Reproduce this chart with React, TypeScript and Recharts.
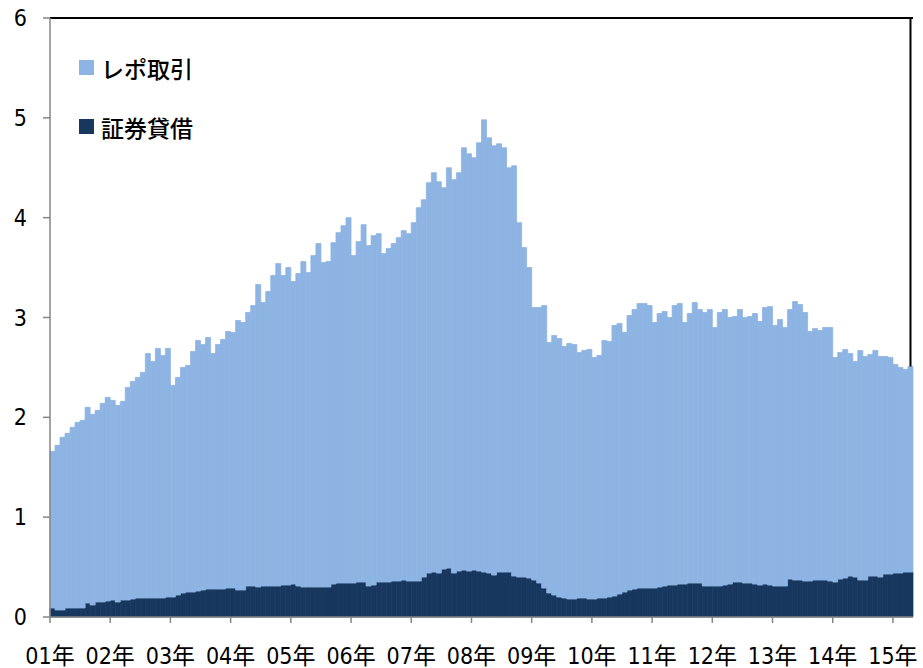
import { BarChart, Bar, XAxis, YAxis, Legend, ReferenceLine } from 'recharts'

// 2001年1月〜2015年4月の月次残高（兆円）
const years = ['01', '02', '03', '04', '05', '06', '07', '08', '09', '10', '11', '12', '13', '14', '15']
const monthNums = [1, 2, 3, 4, 5, 6, 7, 8, 9, 10, 11, 12]
const lastMonth = 4

const months: string[] = []
years.forEach((y, yi) => {
  monthNums.forEach((m) => {
    if (yi === years.length - 1 && m > lastMonth) return
    months.push(`${y}/${m}`)
  })
})

// レポ取引＋証券貸借の合計（グラフの上端）
const totalValues = [
  1.66, 1.72, 1.8, 1.84, 1.9, 1.95, 1.97, 2.1, 2.03, 2.07, 2.14, 2.2,
  2.17, 2.12, 2.16, 2.3, 2.36, 2.4, 2.45, 2.64, 2.56, 2.69, 2.62, 2.69,
  2.32, 2.4, 2.5, 2.52, 2.66, 2.77, 2.73, 2.8, 2.64, 2.73, 2.78, 2.86,
  2.85, 2.97, 2.95, 3.05, 3.12, 3.33, 3.15, 3.26, 3.42, 3.54, 3.42, 3.5,
  3.36, 3.44, 3.56, 3.45, 3.62, 3.74, 3.55, 3.56, 3.75, 3.85, 3.92, 4.0,
  3.62, 3.76, 3.93, 3.72, 3.82, 3.84, 3.64, 3.69, 3.74, 3.8, 3.87, 3.84,
  3.95, 4.1, 4.18, 4.35, 4.45, 4.36, 4.3, 4.5, 4.38, 4.45, 4.7, 4.64,
  4.6, 4.75, 4.98, 4.8, 4.72, 4.74, 4.7, 4.5, 4.52, 3.95, 3.7, 3.5,
  3.1, 3.1, 3.12, 2.75, 2.82, 2.79, 2.71, 2.74, 2.73, 2.65, 2.67, 2.68,
  2.6, 2.62, 2.77, 2.76, 2.92, 2.94, 2.85, 3.02, 3.08, 3.14, 3.14, 3.12,
  2.95, 3.04, 3.06, 3.0, 3.12, 3.14, 2.95, 3.04, 3.15, 3.08, 3.05, 3.08,
  2.9, 3.05, 3.08, 3.0, 3.01, 3.08, 3.0, 3.01, 3.04, 2.96, 3.1, 3.11,
  2.92, 2.98, 2.9, 3.08, 3.16, 3.13, 3.05, 2.86, 2.89, 2.87, 2.9, 2.9,
  2.6, 2.65, 2.68, 2.64, 2.56, 2.67, 2.61, 2.63, 2.67, 2.61, 2.61, 2.6,
  2.53, 2.5, 2.48, 2.51,
]

// 証券貸借
const lendingValues = [
  0.09, 0.07, 0.07, 0.09, 0.09, 0.09, 0.09, 0.14, 0.12, 0.15, 0.15, 0.16,
  0.17, 0.15, 0.17, 0.17, 0.18, 0.19, 0.19, 0.19, 0.19, 0.19, 0.19, 0.2,
  0.2, 0.22, 0.24, 0.25, 0.25, 0.26, 0.27, 0.28, 0.28, 0.28, 0.28, 0.29,
  0.29, 0.27, 0.27, 0.31, 0.31, 0.3, 0.31, 0.31, 0.31, 0.31, 0.32, 0.32,
  0.33, 0.31, 0.3, 0.3, 0.3, 0.3, 0.3, 0.3, 0.33, 0.34, 0.34, 0.34,
  0.34, 0.35, 0.35, 0.31, 0.32, 0.35, 0.35, 0.35, 0.36, 0.36, 0.37, 0.36,
  0.36, 0.36, 0.4, 0.44, 0.45, 0.44, 0.48, 0.49, 0.44, 0.46, 0.47, 0.46,
  0.47, 0.46, 0.45, 0.44, 0.42, 0.45, 0.45, 0.45, 0.41, 0.4, 0.4, 0.39,
  0.37, 0.34, 0.29, 0.24, 0.22, 0.2, 0.19, 0.18, 0.18, 0.19, 0.19, 0.18,
  0.18, 0.19, 0.19, 0.2, 0.21, 0.23, 0.25, 0.27, 0.28, 0.29, 0.29, 0.29,
  0.29, 0.3, 0.31, 0.32, 0.32, 0.33, 0.33, 0.34, 0.34, 0.34, 0.31, 0.31,
  0.31, 0.31, 0.32, 0.33, 0.35, 0.35, 0.34, 0.34, 0.33, 0.32, 0.33, 0.32,
  0.31, 0.31, 0.31, 0.38, 0.37, 0.37, 0.36, 0.36, 0.37, 0.37, 0.37, 0.36,
  0.35, 0.38, 0.39, 0.41, 0.4, 0.37, 0.37, 0.41, 0.41, 0.4, 0.43, 0.43,
  0.44, 0.44, 0.45, 0.45,
]

const yTicks = [0, 1, 2, 3, 4, 5, 6]

const seriesInfo = [
  { key: 'repo', name: 'レポ取引', color: '#8DB4E2' },
  { key: 'lending', name: '証券貸借', color: '#17375E' },
]

const data = months.map((m, i) => ({
  month: m,
  lending: lendingValues[i],
  repo: +(totalValues[i] - lendingValues[i]).toFixed(2),
}))

const W = 923
const H = 668
const PLOT_LEFT = 50
const PLOT_RIGHT = 10
const band = (W - PLOT_LEFT - PLOT_RIGHT) / months.length

const AXIS_GRAY = '#868686'
const labelFont = '"Liberation Sans Narrow", "DejaVu Sans Condensed", "Noto Sans CJK JP", sans-serif'
const jpFont = '"Noto Sans CJK JP", sans-serif'

function YearTick({ x, y, payload }: any) {
  const x0 = x - band / 2
  return (
    <g>
      <line x1={x0} y1={y} x2={x0} y2={y + 6} stroke={AXIS_GRAY} strokeWidth={1.5} />
      <text x={x0} y={y + 47} textAnchor="middle" fontSize={23} fontFamily={labelFont} fill="#000">
        {payload.value.split('/')[0] + '年'}
      </text>
    </g>
  )
}

function LegendBox() {
  return (
    <div style={{ fontFamily: jpFont, fontSize: 23, fontWeight: 500, color: '#000' }}>
      {seriesInfo.map((s) => (
        <div key={s.key} style={{ display: 'flex', alignItems: 'center', height: 59 }}>
          <span style={{ width: 15, height: 15, background: s.color, marginRight: 7, display: 'inline-block' }} />
          <span>{s.name}</span>
        </div>
      ))}
    </div>
  )
}

export default function App() {
  const last = months[months.length - 1]
  return (
    <div style={{ position: 'absolute', left: 0, top: 0, background: '#fff' }}>
      <BarChart
        width={W}
        height={H}
        data={data}
        margin={{ top: 18, right: PLOT_RIGHT, left: 0, bottom: 11 }}
        barCategoryGap={0}
        barGap={0}
      >
        <XAxis
          dataKey="month"
          interval={11}
          tick={<YearTick />}
          tickLine={false}
          tickSize={0}
          tickMargin={0}
          axisLine={{ stroke: AXIS_GRAY, strokeWidth: 1.5 }}
          height={40}
        />
        <YAxis
          domain={[0, 6]}
          ticks={yTicks}
          width={PLOT_LEFT}
          tickSize={7}
          tickMargin={16}
          tick={{ fontSize: 23, fill: '#000', fontFamily: labelFont }}
          axisLine={{ stroke: AXIS_GRAY, strokeWidth: 1.5 }}
          tickLine={{ stroke: AXIS_GRAY, strokeWidth: 1.5 }}
        />
        <Legend
          layout="vertical"
          align="center"
          verticalAlign="middle"
          content={<LegendBox />}
          wrapperStyle={{ left: 79, top: 38, width: 'auto' }}
        />
        <Bar dataKey="lending" stackId="s" fill="#17375E" stroke="#17375E" strokeWidth={0.8} isAnimationActive={false} />
        <Bar dataKey="repo" stackId="s" fill="#8DB4E2" stroke="#8DB4E2" strokeWidth={0.8} isAnimationActive={false} />
        <ReferenceLine y={6} stroke="#000" strokeWidth={2} />
        <ReferenceLine
          segment={[
            { x: last, y: 6 },
            { x: last, y: totalValues[totalValues.length - 1] },
          ]}
          stroke="#000"
          strokeWidth={2}
        />
      </BarChart>
    </div>
  )
}
